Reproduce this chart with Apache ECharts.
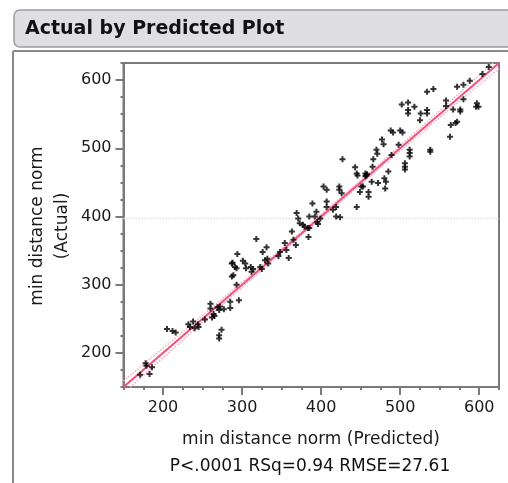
<!DOCTYPE html>
<html>
<head>
<meta charset="utf-8">
<script src="https://cdn.jsdelivr.net/npm/echarts@6/dist/echarts.min.js"></script>
<style>
html,body{margin:0;padding:0;background:#fff;}
#c{width:508px;height:483px;}
</style>
</head>
<body>
<div id="c"></div>
<script>
const chartTitle = 'Actual by Predicted Plot';
const xTitle = 'min distance norm (Predicted)';
const yTitle1 = 'min distance norm';
const yTitle2 = '(Actual)';
const statsText = 'P<.0001 RSq=0.94 RMSE=27.61';
const majorTicks = [200, 300, 400, 500, 600];
const axisMin = 150, axisMax = 625;
const meanActual = 397;

const predicted = [
 171,178,179,183,186,205,212,216,232,234,238,240,245,244,253,
 260,260,262,264,265,269,271,272,277,271,271,274,285,285,287,289,293,291,294,296,
 288,287,293,301,304,305,311,312,314,318,323,325,326,329,331,332,333,346,348,354,356,359,
 363,365,368,369,371,373,377,379,383,384,385,389,392,394,395,396,399,403,407,407,407,
 415,419,419,423,423,424,426,445,385,427,
 443,445,446,456,457,464,472,451,449,460,
 612,604,588,580,572,580,576,576,567,572,570,564,563,558,558,597,599,596,542,534,
 510,502,518,510,510,526,525,534,534,538,538,512,512,512,506,506,506,498,488,491,
 500,503,477,479,470,471,466,465,458,456,480,482,481,485,489,453,460
];
const actual = [
 168,185,181,169,179,235,232,230,242,238,246,236,238,242,249,
 272,265,252,257,254,267,263,268,264,226,221,234,275,266,331,314,300,326,345,277,
 332,312,324,335,331,324,326,319,323,367,326,323,348,336,355,338,331,342,348,361,351,339,
 378,366,358,405,397,390,388,385,383,370,383,419,400,407,392,389,397,444,439,422,414,
 410,400,414,444,439,399,434,414,400,484,
 472,463,460,463,460,451,449,444,436,429,
 619,609,599,593,590,572,557,554,557,539,537,534,517,570,562,566,561,561,587,583,
 567,564,561,556,551,551,541,556,551,498,495,498,493,488,478,473,469,505,526,523,
 526,523,513,506,498,492,484,473,462,459,456,451,441,466,490,444,436
];

// fit line and confidence curves
const fitX = [150, 625];
const fitY = [150, 625];
const confX = [150, 200, 250, 300, 350, 400, 450, 500, 550, 600, 625];
const confUpper = [159, 207, 255, 304, 353, 403, 453, 504, 555, 607, 633];
const confLower = [141, 193, 245, 296, 347, 397, 447, 496, 545, 593, 617];

const pts = predicted.map((v, i) => [v, actual[i]]);
const fitData = fitX.map((v, i) => [v, fitY[i]]);
const upData = confX.map((v, i) => [v, confUpper[i]]);
const loData = confX.map((v, i) => [v, confLower[i]]);

const FONT = '"DejaVu Sans", "Liberation Sans", Arial, sans-serif';
const AX = '#7a7a7a';
const plusPath = 'path://M2,0H4V2H6V4H4V6H2V4H0V2H2Z';

const chart = echarts.init(document.getElementById('c'), null, {renderer: 'canvas'});
const G = {left: 123.5, top: 63, right: 9, bottom: 96};

function baseAxis(extra) {
  return Object.assign({
    type: 'value', min: axisMin, max: axisMax, interval: 25,
    axisLine: {show: true, onZero: false, lineStyle: {color: AX, width: 2}},
    axisTick: {show: true, inside: false, length: 3, lineStyle: {color: AX, width: 2}},
    axisLabel: {show: false},
    splitLine: {show: false}
  }, extra);
}
function majorAxis(extra) {
  return Object.assign({
    type: 'value', min: axisMin, max: axisMax,
    axisLine: {show: false, onZero: false},
    axisTick: {show: true, inside: false, length: 8, customValues: majorTicks, lineStyle: {color: AX, width: 2}},
    splitLine: {show: false}
  }, extra);
}
const lbl = {show: true, customValues: majorTicks, fontSize: 16, fontFamily: FONT, color: '#1a1a1a', margin: 12};

chart.setOption({
  animation: false,
  backgroundColor: '#fff',
  grid: Object.assign({show: true, borderColor: AX, borderWidth: 2, backgroundColor: '#fff'}, G),
  xAxis: [
    baseAxis({position: 'bottom'}),
    majorAxis({position: 'bottom', axisLabel: Object.assign({}, lbl, {margin: 13})})
  ],
  yAxis: [
    baseAxis({position: 'left'}),
    majorAxis({position: 'left', axisLabel: Object.assign({}, lbl, {margin: 12})})
  ],
  graphic: [
    {type: 'rect', shape: {x: 14, y: 10, width: 640, height: 37, r: [6, 0, 0, 6]},
     style: {fill: '#dfdee3', stroke: '#9c9ca0', lineWidth: 1.5}, z: 1},
    {type: 'text', x: 25, y: 29, style: {text: chartTitle, font: 'bold 19px ' + FONT, fill: '#111', verticalAlign: 'middle'}, z: 2},
    {type: 'line', shape: {x1: 13, y1: 51, x2: 13, y2: 483}, style: {stroke: '#8a8a8a', lineWidth: 2}, z: 1},
    {type: 'line', shape: {x1: 13, y1: 51, x2: 508, y2: 51}, style: {stroke: '#8a8a8a', lineWidth: 2}, z: 1},
    {type: 'text', x: 311, y: 440, style: {text: xTitle, font: '17px ' + FONT, fill: '#1a1a1a', align: 'center', verticalAlign: 'middle'}},
    {type: 'text', x: 310, y: 467, style: {text: statsText, font: '17px ' + FONT, fill: '#111', align: 'center', verticalAlign: 'middle'}},
    {type: 'text', x: 38, y: 226, rotation: Math.PI / 2, style: {text: yTitle1, font: '17px ' + FONT, fill: '#1a1a1a', align: 'center', verticalAlign: 'middle'}},
    {type: 'text', x: 63, y: 226, rotation: Math.PI / 2, style: {text: yTitle2, font: '17px ' + FONT, fill: '#1a1a1a', align: 'center', verticalAlign: 'middle'}}
  ],
  series: [
    {type: 'line', data: [[axisMin, meanActual], [axisMax, meanActual]], symbol: 'none', silent: true,
     lineStyle: {color: '#e4dbe4', width: 1.5, type: 'dotted'}, z: 1},
    {type: 'line', data: upData, smooth: true, symbol: 'none', silent: true,
     lineStyle: {color: '#f7aec0', width: 1.5, type: 'dotted'}, z: 2},
    {type: 'line', data: loData, smooth: true, symbol: 'none', silent: true,
     lineStyle: {color: '#f7aec0', width: 1.5, type: 'dotted'}, z: 2},
    {type: 'line', data: fitData, symbol: 'none', silent: true,
     lineStyle: {color: '#f2507a', width: 2}, z: 3},
    {type: 'scatter', data: pts, symbol: plusPath, symbolSize: 6,
     itemStyle: {color: '#000'}, z: 4}
  ]
});
</script>
</body>
</html>
